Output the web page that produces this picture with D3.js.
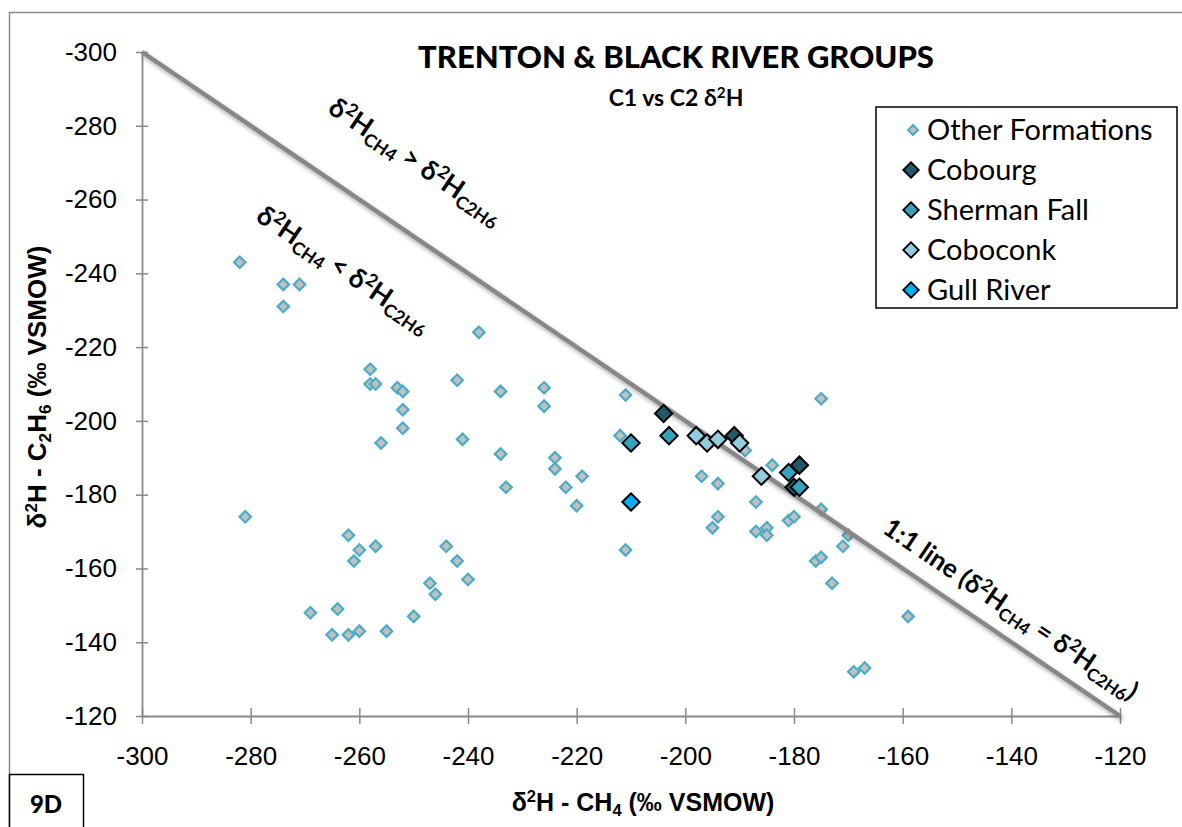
<!DOCTYPE html>
<html>
<head>
<meta charset="utf-8">
<script src="https://cdn.jsdelivr.net/npm/d3@7"></script>
<style>
  body { margin: 0; background: #fff; }
  svg { display: block; }
</style>
</head>
<body>
<svg id="chart" width="1182" height="827"></svg>
<script>
// δ2H of methane (x) and ethane (y), ‰ VSMOW
const otherCH4  = [-282,-274,-271,-274,-238,-258,-258,-257,-253,-252,-252,-252,-256,-242,-241,-234,-234,-226,-226,-211,
                   -212,-224,-224,-219,-233,-222,-220,-211,-281,-262,-260,-257,-261,-269,-264,-265,-262,-260,-255,-250,
                   -247,-246,-244,-242,-240,-197,-194,-189,-184,-187,-194,-195,-187,-185,-185,-181,-180,-175,-175,-170,
                   -171,-176,-175,-173,-159,-169,-167];
const otherC2H6 = [-243,-237,-237,-231,-224,-214,-210,-210,-209,-208,-203,-198,-194,-211,-195,-208,-191,-209,-204,-207,
                   -196,-190,-187,-185,-182,-182,-177,-165,-174,-169,-165,-166,-162,-148,-149,-142,-142,-143,-143,-147,
                   -156,-153,-166,-162,-157,-185,-183,-192,-188,-178,-174,-171,-170,-171,-169,-173,-174,-176,-206,-169,
                   -166,-162,-163,-156,-147,-132,-133];

const cobourgCH4  = [-204,-191,-179,-180];
const cobourgC2H6 = [-202,-196,-188,-182];

const shermanCH4  = [-210,-203,-181,-179];
const shermanC2H6 = [-194,-196,-186,-182];

const coboconkCH4  = [-198,-196,-194,-190,-186];
const coboconkC2H6 = [-196,-194,-195,-194,-185];

const gullCH4  = [-210];
const gullC2H6 = [-178];

const seriesNames = ["Other Formations","Cobourg","Sherman Fall","Coboconk","Gull River"];

const xTickValues = [-300,-280,-260,-240,-220,-200,-180,-160,-140,-120];
const yTickValues = [-300,-280,-260,-240,-220,-200,-180,-160,-140,-120];
const oneToOne = [-300,-120];

// ---------- layout & style ----------
const svg = d3.select("#chart");
const x = d3.scaleLinear().domain([-300,-120]).range([142,1120]);
const y = d3.scaleLinear().domain([-300,-120]).range([52,716]);
const axisGrey = "#898989";
const labelFont = "'Liberation Sans', Arial, sans-serif";
const calFont = "Lato, 'Open Sans', sans-serif";

const styles = [
  { fill: "#c0c0c0", stroke: "#4bacc6", size: 66, sw: 2.2 },
  { fill: "#215968", stroke: "#000", size: 150, sw: 2 },
  { fill: "#35a2bf", stroke: "#000", size: 150, sw: 2 },
  { fill: "#93cddd", stroke: "#000", size: 150, sw: 2 },
  { fill: "#00b0f0", stroke: "#000", size: 150, sw: 2 }
];

const defs = svg.append("defs");
const f = defs.append("filter").attr("id","shadow").attr("x","-10%").attr("y","-10%").attr("width","130%").attr("height","130%");
f.append("feDropShadow").attr("dx",2).attr("dy",3).attr("stdDeviation",2).attr("flood-color","#000").attr("flood-opacity",0.35);

// outer frame
svg.append("path")
  .attr("d","M9.5,840V12.5H1190")
  .attr("fill","none").attr("stroke","#8c8c8c").attr("stroke-width",1.5);

// small rich-text helper: parts are [text, "n"|"sup"|"sub"]
function rich(sel, parts, fs) {
  let shift = 0;
  parts.forEach(([t, kind]) => {
    const target = kind === "sup" ? -0.36*fs : kind === "sub" ? 0.2*fs : 0;
    sel.append("tspan")
      .attr("dy", target - shift)
      .attr("font-size", kind === "n" ? fs : fs*0.66)
      .text(t);
    shift = target;
  });
}

// ---------- axes ----------
const plain = d => String(d);
const yAxis = d3.axisLeft(y).tickValues(yTickValues).tickFormat(plain).tickSizeInner(6).tickSizeOuter(0).tickPadding(19);
const gy = svg.append("g").attr("transform",`translate(${x(-300)},0)`).call(yAxis);
gy.selectAll(".tick").append("line").attr("x2",6);

const xAxis = d3.axisBottom(x).tickValues(xTickValues).tickFormat(plain).tickSizeInner(8).tickSizeOuter(0).tickPadding(23);
const gx = svg.append("g").attr("transform",`translate(0,${y(-120)})`).call(xAxis);
gx.selectAll(".tick").append("line").attr("y2",-8);

[gx, gy].forEach(g => {
  g.select(".domain").attr("stroke",axisGrey).attr("stroke-width",1.8);
  g.selectAll(".tick line").attr("stroke",axisGrey).attr("stroke-width",1.5);
  g.selectAll(".tick text").attr("fill","#000").attr("font-family",labelFont).attr("font-size",26);
});

// ---------- markers ----------
const diamond = s => d3.symbol(d3.symbolSquare).size(s)();
function drawSeries(xs, ys, st, cls) {
  svg.append("g").attr("class",cls).selectAll("path")
    .data(xs.map((v,i) => [v, ys[i]]))
    .join("path")
    .attr("d", diamond(st.size))
    .attr("transform", d => `translate(${x(d[0])},${y(d[1])}) rotate(45)`)
    .attr("fill", st.fill).attr("stroke", st.stroke).attr("stroke-width", st.sw);
}
drawSeries(otherCH4, otherC2H6, styles[0], "other");

// 1:1 line
svg.append("line")
  .attr("x1", x(oneToOne[0])).attr("y1", y(oneToOne[0]))
  .attr("x2", x(oneToOne[1])).attr("y2", y(oneToOne[1]))
  .attr("stroke","#878787").attr("stroke-width",4.5)
  .attr("filter","url(#shadow)");

drawSeries(cobourgCH4, cobourgC2H6, styles[1], "cobourg");
drawSeries(shermanCH4, shermanC2H6, styles[2], "sherman");
drawSeries(coboconkCH4, coboconkC2H6, styles[3], "coboconk");
drawSeries(gullCH4, gullC2H6, styles[4], "gull");

// ---------- annotations along the 1:1 line ----------
const angle = Math.atan2(y(-120)-y(-300), x(-120)-x(-300)) * 180/Math.PI;
function annot(cx, cy, parts, fs) {
  const t = svg.append("text")
    .attr("transform", `translate(${cx},${cy}) rotate(${angle})`)
    .attr("text-anchor","middle")
    .attr("font-family", calFont).attr("font-weight",700)
    .attr("y", fs*0.35);
  rich(t, parts, fs);
}
annot(416, 161, [["δ","n"],["2","sup"],["H","n"],["CH4","sub"],[" > δ","n"],["2","sup"],["H","n"],["C2H6","sub"]], 27);
annot(344, 269, [["δ","n"],["2","sup"],["H","n"],["CH4","sub"],[" < δ","n"],["2","sup"],["H","n"],["C2H6","sub"]], 27);
annot(1011, 609, [["1:1 line (δ","n"],["2","sup"],["H","n"],["CH4","sub"],[" = δ","n"],["2","sup"],["H","n"],["C2H6","sub"],[")","n"]], 26);

// ---------- titles ----------
svg.append("text").attr("x",676).attr("y",68).attr("text-anchor","middle")
  .attr("font-family",calFont).attr("font-weight",900).attr("font-size",31)
  .text("TRENTON & BLACK RIVER GROUPS");
const sub = svg.append("text").attr("x",676).attr("y",106).attr("text-anchor","middle")
  .attr("font-family",calFont).attr("font-weight",700);
rich(sub, [["C1 vs C2 δ","n"],["2","sup"],["H","n"]], 23);

const xl = svg.append("text").attr("x",643).attr("y",811).attr("text-anchor","middle")
  .attr("font-family",labelFont).attr("font-weight",700);
rich(xl, [["δ","n"],["2","sup"],["H - CH","n"],["4","sub"],[" (‰ VSMOW)","n"]], 25);

const yl = svg.append("text").attr("transform","translate(46,387) rotate(-90)").attr("text-anchor","middle")
  .attr("font-family",labelFont).attr("font-weight",700);
rich(yl, [["δ","n"],["2","sup"],["H - C","n"],["2","sub"],["H","n"],["6","sub"],[" (‰ VSMOW)","n"]], 26);

// ---------- legend ----------
const lg = svg.append("g");
lg.append("rect").attr("x",876).attr("y",107).attr("width",301).attr("height",201)
  .attr("fill","#fff").attr("stroke","#000").attr("stroke-width",1.5);
seriesNames.forEach((name, i) => {
  const ly = 130 + i*40;
  const st = styles[i];
  lg.append("path").attr("d", diamond(i === 0 ? 50 : 120))
    .attr("transform", `translate(${i === 0 ? 913 : 911},${ly}) rotate(45)`)
    .attr("fill", st.fill).attr("stroke", st.stroke).attr("stroke-width", i === 0 ? 2 : 1.8);
  lg.append("text").attr("x",927).attr("y",ly).attr("dy","0.36em")
    .attr("font-family",calFont).attr("font-size",29).text(name);
});

// ---------- panel tag ----------
svg.append("rect").attr("x",9.5).attr("y",774.5).attr("width",74).attr("height",70)
  .attr("fill","#fff").attr("stroke","#000").attr("stroke-width",1.5);
svg.append("text").attr("x",46).attr("y",813).attr("text-anchor","middle")
  .attr("font-family",calFont).attr("font-weight",900).attr("font-size",24).text("9D");
</script>
</body>
</html>
